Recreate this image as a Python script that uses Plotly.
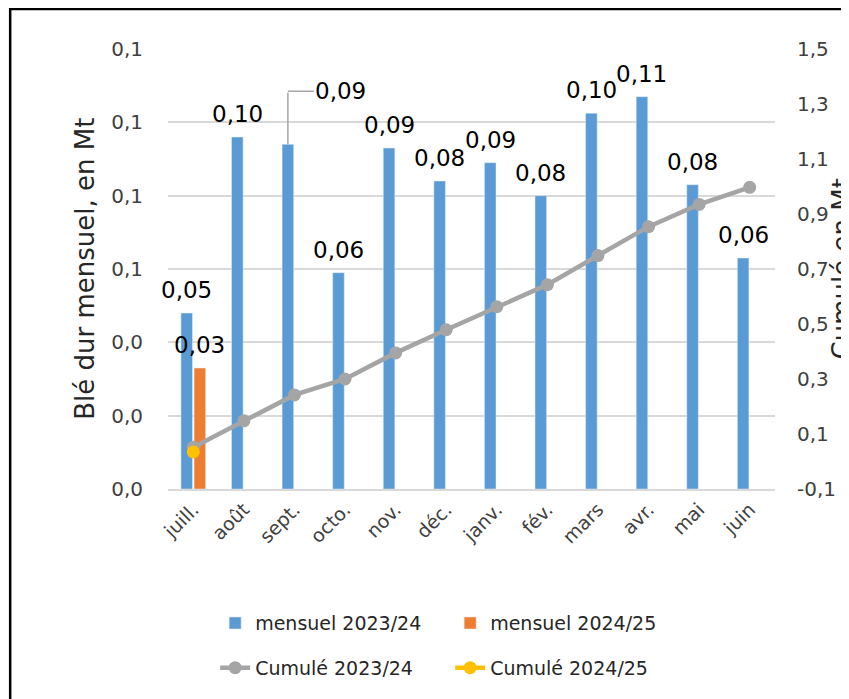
import plotly.graph_objects as go

months = ["juill.", "août", "sept.", "octo.", "nov.", "déc.", "janv.", "fév.",
          "mars", "avr.", "mai", "juin"]
mensuel_2324 = [0.048, 0.096, 0.094, 0.059, 0.093, 0.084, 0.089, 0.080,
                0.1025, 0.107, 0.083, 0.063]
mensuel_2425 = [0.033]
cumul_2324 = [0.052, 0.148, 0.242, 0.300, 0.395, 0.479, 0.563, 0.643,
              0.749, 0.854, 0.935, 0.997]
cumul_2425 = [0.035]

left_ticks = [0.0, 0.02, 0.04, 0.06, 0.08, 0.10, 0.12]
left_ticktext = ["0,0", "0,0", "0,0", "0,1", "0,1", "0,1", "0,1"]
right_ticks = [-0.1, 0.1, 0.3, 0.5, 0.7, 0.9, 1.1, 1.3, 1.5]
right_ticktext = ["-0,1", "0,1", "0,3", "0,5", "0,7", "0,9", "1,1", "1,3", "1,5"]

FONT = "DejaVu Sans"
BLUE = "#5b9bd5"
ORANGE = "#ed7d31"
GRAY = "#a5a5a5"
YELLOW = "#ffc000"

WIDTH, HEIGHT = 849, 699
MARGIN = dict(l=160, r=82, t=41, b=218)
BARGAP, GROUPGAP = 0.48, 0.12


def fmt(v):
    return f"{v:.2f}".replace(".", ",")


# horizontal offset of each bar of a group from its category centre (px)
plot_w = WIDTH - MARGIN["l"] - MARGIN["r"]
slot = plot_w / len(months) * (1 - BARGAP) / 2
label_font = dict(size=23, color="#000000", family=FONT)
callout = "sept."  # its label sits off the bar with a leader line

fig = go.Figure()
fig.add_trace(go.Bar(x=months, y=mensuel_2324, name="mensuel 2023/24",
                     marker_color=BLUE, legend="legend"))
fig.add_trace(go.Bar(x=months[:len(mensuel_2425)], y=mensuel_2425, name="mensuel 2024/25",
                     marker_color=ORANGE, legend="legend"))
fig.add_trace(go.Scatter(x=months, y=cumul_2324, name="Cumulé 2023/24", yaxis="y2",
                         mode="lines+markers", line=dict(color=GRAY, width=4.5),
                         marker=dict(size=13, color=GRAY), legend="legend2"))
fig.add_trace(go.Scatter(x=months[:len(cumul_2425)], y=cumul_2425, name="Cumulé 2024/25",
                         yaxis="y2", mode="lines+markers", line=dict(color=YELLOW, width=4.5),
                         marker=dict(size=13, color=YELLOW), legend="legend2"))

# data labels
for series, shift in ((mensuel_2324, -slot / 2), (mensuel_2425, slot / 2)):
    for m, v in zip(months, series):
        if series is mensuel_2324 and m == callout:
            continue
        fig.add_annotation(x=m, y=v, text=fmt(v), showarrow=False, xshift=shift,
                           yanchor="bottom", yshift=8, font=label_font)

i = months.index(callout)
v = mensuel_2324[i]
fig.add_annotation(x=callout, y=v, text="", showarrow=True, arrowhead=0,
                   arrowcolor="#a6a6a6", arrowwidth=1.5, ax=0, ay=-53,
                   xshift=-slot / 2)
fig.add_annotation(x=callout, y=v, text=fmt(v), showarrow=True, arrowhead=0,
                   arrowcolor="#a6a6a6", arrowwidth=1.5, ax=53, ay=0,
                   xshift=-slot / 2, yshift=53, font=label_font)

fig.add_annotation(xref="paper", yref="paper", x=-0.137, y=0.5, xanchor="center",
                   yanchor="middle", text="Blé dur mensuel, en Mt", textangle=-90,
                   showarrow=False, font=dict(size=26, color="#262626", family=FONT))
# right title runs off the edge of the frame, as in the source
fig.add_annotation(xref="paper", yref="paper", x=1.111, y=0.5, xanchor="center",
                   yanchor="middle", text="Cumulé en Mt", textangle=-90,
                   showarrow=False, font=dict(size=26, color="#262626", family=FONT))

fig.add_shape(type="rect", xref="paper", yref="paper", x0=-0.26, x1=1.3,
              y0=-0.6, y1=1.091, line=dict(color="#000000", width=2.5))

legend_style = dict(orientation="h", xref="container", yref="container",
                    xanchor="left", yanchor="middle", entrywidth=190,
                    font=dict(size=19, color="#262626"), bgcolor="rgba(0,0,0,0)")

fig.update_layout(
    width=WIDTH, height=HEIGHT,
    margin=MARGIN,
    paper_bgcolor="white", plot_bgcolor="white",
    font=dict(family=FONT, size=20, color="#404040"),
    separators=", ",
    barmode="group", bargap=BARGAP, bargroupgap=GROUPGAP,
    xaxis=dict(tickangle=-45, tickfont=dict(size=19, color="#404040"),
               range=[-0.5, len(months) - 0.5],
               showline=True, linecolor="#d9d9d9", linewidth=2, ticks="",
               automargin=False),
    yaxis=dict(range=[0, 0.12], tickvals=left_ticks, ticktext=left_ticktext,
               showgrid=True, gridcolor="#d9d9d9", gridwidth=1.5, zeroline=False,
               ticks="", ticklabelstandoff=24, automargin=False),
    yaxis2=dict(overlaying="y", side="right", range=[-0.1, 1.5],
                tickvals=right_ticks, ticktext=right_ticktext,
                showgrid=False, zeroline=False,
                ticks="", ticklabelstandoff=21, automargin=False),
    legend=dict(legend_style, x=0.244, y=0.120),
    legend2=dict(legend_style, x=0.244, y=0.056),
)

fig.write_html("out.html")
